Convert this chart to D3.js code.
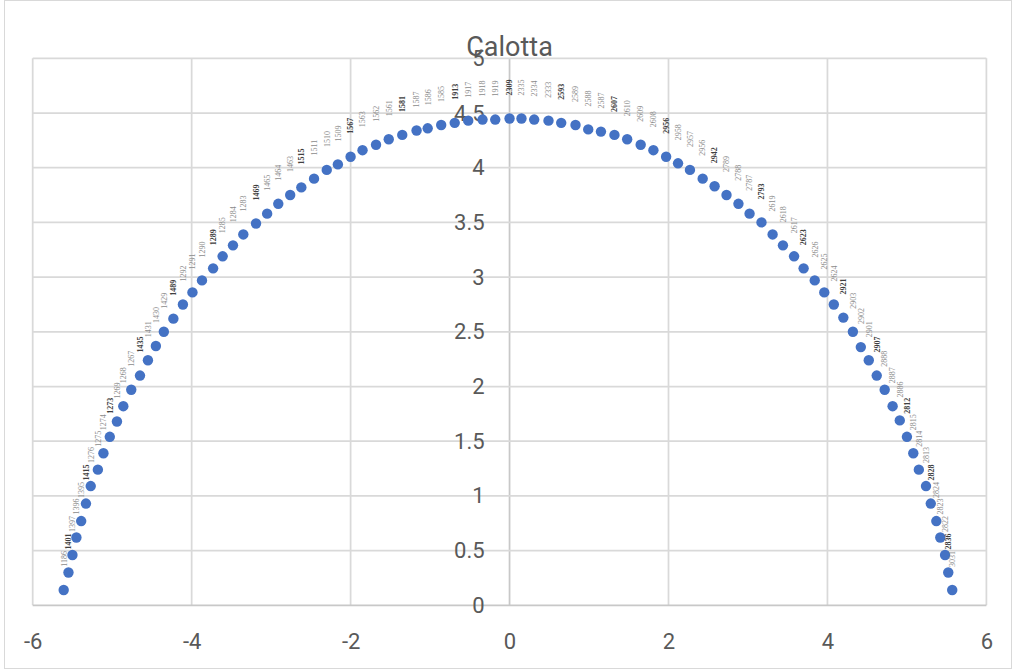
<!DOCTYPE html>
<html>
<head>
<meta charset="utf-8">
<script src="https://cdn.jsdelivr.net/npm/d3@7"></script>
<style>
  body { margin: 0; background: #fff; }
  svg { display: block; }
</style>
</head>
<body>
<div id="chart"></div>
<script>
// values, left foot -> top -> right foot
const xValues = [
  -5.61, -5.55, -5.50, -5.45, -5.39, -5.33, -5.27, -5.18, -5.11, -5.03,
  -4.94, -4.86, -4.76, -4.65, -4.55, -4.45, -4.35, -4.23, -4.11, -3.99,
  -3.87, -3.73, -3.61, -3.48, -3.35, -3.19, -3.05, -2.91, -2.76, -2.62,
  -2.46, -2.30, -2.16, -2.00, -1.85, -1.68, -1.52, -1.35, -1.17, -1.03,
  -0.86, -0.69, -0.52, -0.34, -0.18, 0.00,
  0.15, 0.31, 0.49, 0.65, 0.83, 0.99, 1.15, 1.32, 1.48, 1.65,
  1.81, 1.97, 2.12, 2.27, 2.43, 2.58, 2.73, 2.88, 3.02, 3.17,
  3.31, 3.44, 3.58, 3.70, 3.84, 3.96, 4.08, 4.20, 4.32, 4.42,
  4.52, 4.62, 4.72, 4.82, 4.91, 5.00, 5.08, 5.15, 5.24, 5.30,
  5.37, 5.42, 5.48, 5.52, 5.57
];
const yValues = [
  0.14, 0.30, 0.46, 0.62, 0.77, 0.93, 1.09, 1.24, 1.39, 1.54,
  1.68, 1.82, 1.97, 2.10, 2.24, 2.37, 2.50, 2.62, 2.75, 2.86,
  2.97, 3.08, 3.19, 3.29, 3.39, 3.49, 3.58, 3.67, 3.75, 3.82,
  3.90, 3.98, 4.03, 4.10, 4.16, 4.21, 4.26, 4.30, 4.34, 4.36,
  4.39, 4.41, 4.43, 4.44, 4.44, 4.45,
  4.45, 4.44, 4.43, 4.41, 4.39, 4.35, 4.33, 4.30, 4.26, 4.21,
  4.16, 4.10, 4.04, 3.98, 3.90, 3.83, 3.75, 3.67, 3.58, 3.50,
  3.39, 3.29, 3.19, 3.08, 2.97, 2.86, 2.75, 2.63, 2.50, 2.36,
  2.24, 2.10, 1.97, 1.82, 1.69, 1.54, 1.39, 1.24, 1.09, 0.93,
  0.77, 0.62, 0.46, 0.30, 0.14
];
const pointLabels = [
  "1186", "1401", "1397", "1396", "1395", "1415", "1276", "1275", "1274", "1273",
  "1269", "1268", "1267", "1435", "1431", "1430", "1429", "1489", "1292", "1291",
  "1290", "1289", "1285", "1284", "1283", "1469", "1465", "1464", "1463", "1515",
  "1511", "1510", "1509", "1567", "1563", "1562", "1561", "1581", "1587", "1586",
  "1585", "1913", "1917", "1918", "1919", "2309",
  "2335", "2334", "2333", "2593", "2589", "2588", "2587", "2607", "2610", "2609",
  "2608", "2956", "2958", "2957", "2956", "2942", "2789", "2788", "2787", "2793",
  "2619", "2618", "2617", "2623", "2626", "2625", "2624", "2921", "2903", "2902",
  "2901", "2907", "2888", "2887", "2886", "2812", "2815", "2814", "2813", "2828",
  "2824", "2823", "2822", "2836", "3031"
];
const xTicks = [-6, -4, -2, 0, 2, 4, 6];
const yTicks = [0, 0.5, 1, 1.5, 2, 2.5, 3, 3.5, 4, 4.5, 5];
const chartTitle = "Calotta";

const width = 1014, height = 671;
const plot = { left: 32.7, right: 986.4, top: 58.3, bottom: 605.3 };
const tickFont = "Roboto, 'Open Sans', sans-serif";

const svg = d3.select("#chart").append("svg")
  .attr("width", width)
  .attr("height", height);

// chart area border
svg.append("rect")
  .attr("x", 4.5).attr("y", 0.5)
  .attr("width", 1007).attr("height", 668)
  .attr("fill", "#fff")
  .attr("stroke", "#d9d9d9");

const x = d3.scaleLinear().domain([-6, 6]).range([plot.left, plot.right]);
const y = d3.scaleLinear().domain([0, 5]).range([plot.bottom, plot.top]);

const grid = svg.append("g").attr("class", "grid");
grid.selectAll(".vgrid").data(xTicks).enter().append("line")
  .attr("x1", d => x(d)).attr("x2", d => x(d))
  .attr("y1", plot.top).attr("y2", plot.bottom)
  .attr("stroke", d => d === 0 ? "#c8c8c8" : "#d9d9d9")
  .attr("stroke-width", 1.75);
grid.selectAll(".hgrid").data(yTicks).enter().append("line")
  .attr("x1", plot.left).attr("x2", plot.right)
  .attr("y1", d => y(d)).attr("y2", d => y(d))
  .attr("stroke", d => d === 0 ? "#c8c8c8" : "#d9d9d9")
  .attr("stroke-width", 1.75);

// x axis labels under the plot (plain hyphen for negatives, like the original)
const xAxis = svg.append("g")
  .attr("transform", "translate(0," + plot.bottom + ")")
  .call(d3.axisBottom(x).tickValues(xTicks).tickSize(0).tickPadding(28).tickFormat(d => String(d)));
xAxis.select(".domain").remove();
xAxis.selectAll("text")
  .attr("fill", "#595959")
  .style("font-family", tickFont)
  .style("font-size", "22px");

// y axis labels sit on the x = 0 line
const yAxis = svg.append("g")
  .attr("transform", "translate(" + x(0) + ",0)")
  .call(d3.axisLeft(y).tickValues(yTicks).tickSize(0).tickPadding(25).tickFormat(d => String(d)));
yAxis.select(".domain").remove();
yAxis.selectAll("text")
  .attr("fill", "#595959")
  .style("font-family", tickFont)
  .style("font-size", "22px");

const points = xValues.map((v, i) => ({ x: v, y: yValues[i], label: pointLabels[i], i: i }));

// markers
svg.append("g").selectAll("circle").data(points).enter().append("circle")
  .attr("cx", d => x(d.x))
  .attr("cy", d => y(d.y))
  .attr("r", 5.2)
  .attr("fill", "#4472c4");

// vertical labels above each marker, every 4th one stronger
svg.append("g").selectAll("text").data(points).enter().append("text")
  .attr("transform", d => "translate(" + x(d.x) + "," + (y(d.y) - 31) + ") rotate(-90)")
  .attr("text-anchor", "middle")
  .attr("dy", "0.35em")
  .style("font-family", "'Liberation Serif', 'DejaVu Serif', serif")
  .style("font-size", "8px")
  .style("font-weight", d => d.i % 4 === 1 ? "bold" : "normal")
  .attr("fill", d => d.i % 4 === 1 ? "#404040" : "#8c8c8c")
  .text(d => d.label);

svg.append("text")
  .attr("x", x(0))
  .attr("y", 56)
  .attr("text-anchor", "middle")
  .attr("fill", "#595959")
  .style("font-family", tickFont)
  .style("font-size", "27px")
  .text(chartTitle);
</script>
</body>
</html>
